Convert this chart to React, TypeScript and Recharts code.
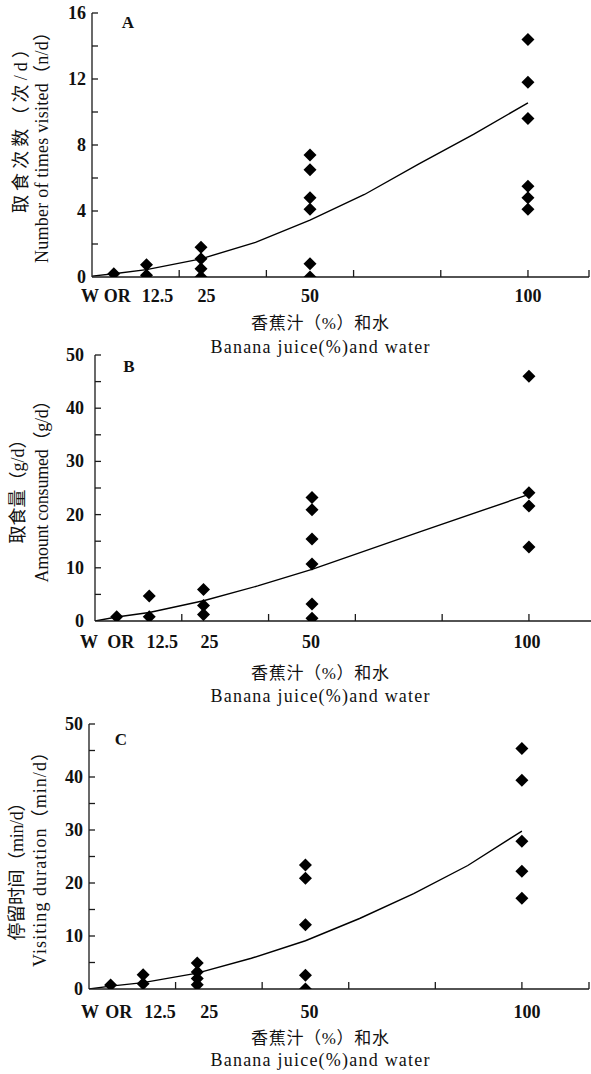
import React from 'react';
import { ComposedChart, XAxis, YAxis, Scatter, Line } from 'recharts';

// ---------- shared x axis ----------
const xTickLabels = ['W', 'OR', '12.5', '25', '50', '100'];
const xTickLabelValues = [0, 5, 12.5, 25, 50, 100];
const xTickMarks = [20, 40, 60, 80, 100];
const treatmentX = [5, 12.5, 25, 50, 100];

const xTitleCn = '香蕉汁（%）和水';
const xTitleEn = 'Banana juice(%)and water';

// ---------- Panel A: number of visits ----------
const visitsOR = [0.2];
const visits125 = [0.75, 0.1];
const visits25 = [1.8, 1.1, 0.5, 0];
const visits50 = [7.4, 6.5, 4.8, 4.1, 0.8, 0];
const visits100 = [14.4, 11.8, 9.6, 5.5, 4.8, 4.1];
const visitsFitX = [0, 5, 12.5, 25, 37.5, 50, 62.5, 75, 87.5, 100];
const visitsFitY = [0.05, 0.2, 0.45, 1.1, 2.1, 3.45, 5.0, 6.85, 8.65, 10.55];
const visitsTicks = [0, 2, 4, 6, 8, 10, 12, 14, 16];
const visitsTickLabels = [0, 4, 8, 12, 16];

// ---------- Panel B: amount consumed ----------
const amountOR = [0.8];
const amount125 = [4.7, 0.8];
const amount25 = [5.9, 2.9, 1.2];
const amount50 = [23.2, 20.9, 15.4, 10.7, 3.2, 0.5];
const amount100 = [46.0, 24.1, 21.6, 13.9];
const amountFitX = [0, 5, 12.5, 25, 37.5, 50, 75, 100];
const amountFitY = [0, 0.75, 1.6, 3.8, 6.6, 9.7, 16.8, 23.8];
const amountTicks = [0, 5, 10, 15, 20, 25, 30, 35, 40, 45, 50];
const amountTickLabels = [0, 10, 20, 30, 40, 50];

// ---------- Panel C: visiting duration ----------
const durationOR = [0.75];
const duration125 = [2.7, 1.0];
const duration25 = [4.9, 3.2, 2.0, 0.8];
const duration50 = [23.4, 20.9, 12.1, 2.6, 0];
const duration100 = [45.4, 39.4, 27.9, 22.2, 17.1];
const durationFitX = [0, 5, 12.5, 25, 37.5, 50, 62.5, 75, 87.5, 100];
const durationFitY = [0, 0.55, 1.2, 3.0, 5.8, 9.1, 13.3, 18.0, 23.3, 29.8];
const durationTicks = [0, 5, 10, 15, 20, 25, 30, 35, 40, 45, 50];
const durationTickLabels = [0, 10, 20, 30, 40, 50];

// ---------- styles ----------
const AXIS = '#1a1a1a';
const tickFont: React.CSSProperties = {
  fontFamily: "'Liberation Serif','Times New Roman',serif",
  fontWeight: 700,
  fontSize: 18,
};
const titleFont: React.CSSProperties = {
  fontFamily: "'Liberation Serif','Noto Sans CJK SC',serif",
  fontSize: 18,
};
const cnFont: React.CSSProperties = {
  fontFamily: "'Liberation Serif','Noto Sans CJK SC',serif",
  fontSize: 18,
};
const cnXFont: React.CSSProperties = {
  fontFamily: "'Liberation Serif','Noto Sans CJK SC',serif",
  fontSize: 17,
};

type Cfg = {
  letter: string;
  top: number;
  height: number;
  plotTop: number;
  plotBottom: number;
  left: number;
  right: number;
  xMax: number;
  endMark: boolean;
  yMax: number;
  yLabelRight: number;
  tickLabelDy: number;
  cnDy: number;
  enDy: number;
  labelDx: number[];
  letterPos: [number, number];
  cnY: { x: number; y: number; len: number; text: string };
  enY: { x: number; y: number; len: number; text: string };
};

const cfgA: Cfg = {
  letter: 'A', top: 0, height: 360, plotTop: 13, plotBottom: 277, left: 92, right: 589,
  xMax: 114, endMark: true, yMax: 16, yLabelRight: 86, tickLabelDy: 19, cnDy: 46.5, enDy: 70,
  labelDx: [-2, 3.5, 11, 5.5, 0, 0], letterPos: [128, 22],
  cnY: { x: 21, y: 126.5, len: 173, text: '取食次数（次/d）' },
  enY: { x: 42, y: 143, len: 240, text: 'Number of times visited（n/d）' },
};
const cfgB: Cfg = {
  letter: 'B', top: 345, height: 365, plotTop: 355, plotBottom: 621, left: 95, right: 591,
  xMax: 114.3, endMark: false, yMax: 50, yLabelRight: 84, tickLabelDy: 20.5, cnDy: 52, enDy: 75,
  labelDx: [-6, 4, 13, 6, -1, -2], letterPos: [129, 366],
  cnY: { x: 18, y: 487, len: 113, text: '取食量（g/d）' },
  enY: { x: 42, y: 487, len: 191, text: 'Amount consumed（g/d）' },
};
const cfgC: Cfg = {
  letter: 'C', top: 710, height: 364, plotTop: 724, plotBottom: 989, left: 89, right: 589,
  xMax: 115.5, endMark: true, yMax: 50, yLabelRight: 83, tickLabelDy: 22.5, cnDy: 49.5, enDy: 71,
  labelDx: [1, 8, 17, 12, 4, 5], letterPos: [121, 739],
  cnY: { x: 17, y: 867, len: 147, text: '停留时间（min/d）' },
  enY: { x: 40, y: 855, len: 224, text: 'Visiting duration（min/d）' },
};

const Diamond = (p: any) => {
  const { cx, cy } = p;
  if (cx == null || cy == null) return null;
  const r = 6.5;
  return (
    <polygon
      points={`${cx},${cy - r} ${cx + r},${cy} ${cx},${cy + r} ${cx - r},${cy}`}
      fill="#000"
    />
  );
};

function Panel({
  cfg, groups, fitX, fitY, yTicks, yLabels,
}: {
  cfg: Cfg; groups: number[][]; fitX: number[]; fitY: number[]; yTicks: number[]; yLabels: number[];
}) {
  const points = groups.flatMap((vals, i) => vals.map((v) => ({ x: treatmentX[i], y: v })));
  const fit = fitX.map((x, i) => ({ x, y: fitY[i] }));
  const xAxisHeight = 40;
  const H = cfg.height;
  const marginTop = cfg.plotTop - cfg.top;
  const marginBottom = H - (cfg.plotBottom - cfg.top) - xAxisHeight;
  const T = cfg.top;
  const marks = cfg.endMark ? [...xTickMarks, cfg.xMax] : [...xTickMarks];
  const allXTicks = Array.from(new Set([...xTickLabelValues, ...marks])).sort((a, b) => a - b);

  const renderXTick = (props: any) => {
    const { x, y, payload } = props;
    const v = payload.value;
    const idx = xTickLabelValues.indexOf(v);
    const hasMark = marks.includes(v);
    return (
      <g>
        {hasMark && <line x1={x} x2={x} y1={y} y2={y - 7} stroke={AXIS} strokeWidth={1.3} />}
        {idx >= 0 && (
          <text
            x={x + cfg.labelDx[idx]}
            y={y + cfg.tickLabelDy}
            textAnchor="middle"
            dominantBaseline="central"
            fill="#111"
            style={tickFont}
          >
            {xTickLabels[idx]}
          </text>
        )}
      </g>
    );
  };

  const renderYTick = (props: any) => {
    const { x, y, payload } = props;
    const v = payload.value;
    const labeled = yLabels.includes(v);
    return (
      <g>
        {v !== 0 && <line x1={x} x2={x + 6} y1={y} y2={y} stroke={AXIS} strokeWidth={1.3} />}
        {labeled && (
          <text
            x={cfg.yLabelRight}
            y={y}
            textAnchor="end"
            dominantBaseline="central"
            fill="#111"
            style={tickFont}
          >
            {v}
          </text>
        )}
      </g>
    );
  };

  const renderXTitle = () => {
    const baseY = cfg.plotBottom - T;
    return (
      <g>
        <text x={320} y={baseY + cfg.cnDy} textAnchor="middle" dominantBaseline="central"
          fill="#111" style={cnXFont} textLength={138} lengthAdjust="spacing">
          {xTitleCn}
        </text>
        <text x={320} y={baseY + cfg.enDy} textAnchor="middle" dominantBaseline="central"
          fill="#111" style={titleFont} textLength={219} lengthAdjust="spacing">
          {xTitleEn}
        </text>
      </g>
    );
  };

  const renderYTitle = () => (
    <g>
      <text
        x={cfg.cnY.x} y={cfg.cnY.y - T}
        transform={`rotate(-90 ${cfg.cnY.x} ${cfg.cnY.y - T})`}
        textAnchor="middle" dominantBaseline="central" fill="#111" style={cnFont}
        textLength={cfg.cnY.len} lengthAdjust="spacing"
      >
        {cfg.cnY.text}
      </text>
      <text
        x={cfg.enY.x} y={cfg.enY.y - T}
        transform={`rotate(-90 ${cfg.enY.x} ${cfg.enY.y - T})`}
        textAnchor="middle" dominantBaseline="central" fill="#111" style={titleFont}
        textLength={cfg.enY.len} lengthAdjust="spacing"
      >
        {cfg.enY.text}
      </text>
      <text
        x={cfg.letterPos[0]} y={cfg.letterPos[1] - T}
        textAnchor="middle" dominantBaseline="central" fill="#111"
        style={{ ...tickFont, fontSize: 17 }}
      >
        {cfg.letter}
      </text>
    </g>
  );

  return (
    <div style={{ position: 'absolute', left: 0, top: T, width: 591, height: H }}>
      <ComposedChart
        width={591}
        height={H}
        margin={{ top: marginTop, right: 591 - cfg.right, bottom: marginBottom, left: 0 }}
      >
        <XAxis
          type="number"
          dataKey="x"
          domain={[0, cfg.xMax]}
          allowDataOverflow
          ticks={allXTicks}
          interval={0}
          tick={renderXTick}
          tickLine={false}
          tickSize={0}
          tickMargin={0}
          height={xAxisHeight}
          axisLine={{ stroke: AXIS, strokeWidth: 1.3 }}
          label={renderXTitle}
        />
        <YAxis
          type="number"
          dataKey="y"
          domain={[0, cfg.yMax]}
          allowDataOverflow
          ticks={yTicks}
          interval={0}
          tick={renderYTick}
          tickLine={false}
          tickSize={0}
          tickMargin={0}
          width={cfg.left}
          axisLine={{ stroke: AXIS, strokeWidth: 1.3 }}
          label={renderYTitle}
        />
        <Line
          data={fit}
          dataKey="y"
          type="linear"
          dot={false}
          activeDot={false}
          stroke="#000"
          strokeWidth={1.4}
          isAnimationActive={false}
        />
        <Scatter data={points} dataKey="y" shape={Diamond} isAnimationActive={false} />
      </ComposedChart>
    </div>
  );
}

export default function App() {
  return (
    <div style={{ position: 'absolute', left: 0, top: 0, width: 591, height: 1074, background: '#fff' }}>
      <Panel
        cfg={cfgA}
        groups={[visitsOR, visits125, visits25, visits50, visits100]}
        fitX={visitsFitX}
        fitY={visitsFitY}
        yTicks={visitsTicks}
        yLabels={visitsTickLabels}
      />
      <Panel
        cfg={cfgB}
        groups={[amountOR, amount125, amount25, amount50, amount100]}
        fitX={amountFitX}
        fitY={amountFitY}
        yTicks={amountTicks}
        yLabels={amountTickLabels}
      />
      <Panel
        cfg={cfgC}
        groups={[durationOR, duration125, duration25, duration50, duration100]}
        fitX={durationFitX}
        fitY={durationFitY}
        yTicks={durationTicks}
        yLabels={durationTickLabels}
      />
    </div>
  );
}
